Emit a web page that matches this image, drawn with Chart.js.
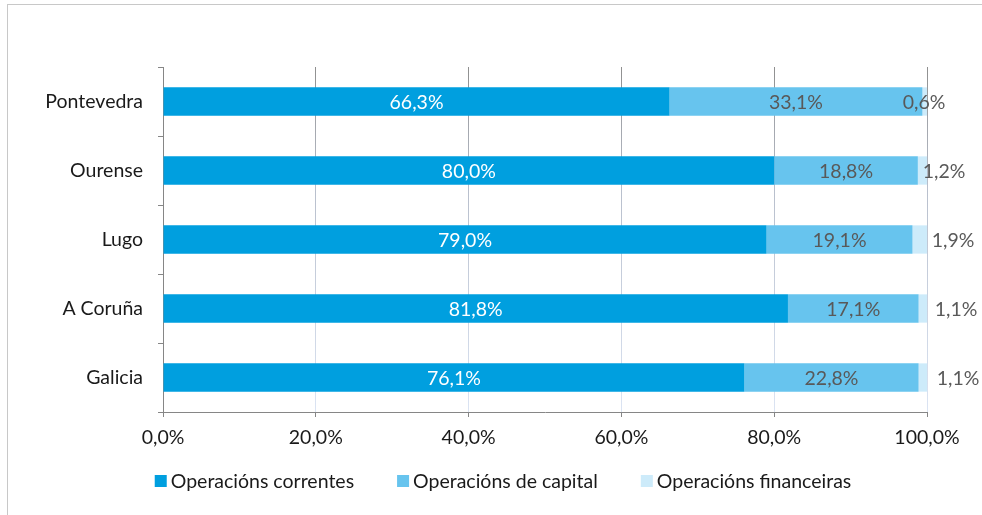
<!DOCTYPE html>
<html><head><meta charset="utf-8">
<script src="https://cdn.jsdelivr.net/npm/chart.js@4"></script>
<style>
html,body{margin:0;padding:0;background:#fff;}
#wrap{position:relative;width:982px;height:515px;overflow:hidden;}
#frame{position:absolute;left:7px;top:4px;width:1000px;height:600px;border:1px solid #c8c8c8;box-sizing:border-box;}
canvas{position:absolute;left:0;top:0;}
</style></head>
<body><div id="wrap"><div id="frame"></div><canvas id="c" width="982" height="515"></canvas></div>
<script>
const categories = ['Pontevedra','Ourense','Lugo','A Coruña','Galicia'];
const seriesNames = ['Operacións correntes','Operacións de capital','Operacións financeiras'];
const correntes = [66.3, 80.0, 79.0, 81.8, 76.1];
const capital = [33.1, 18.8, 19.1, 17.1, 22.8];
const financeiras = [0.6, 1.2, 1.9, 1.1, 1.1];
const xTicks = [0, 20, 40, 60, 80, 100];

const FONT = 'Lato, "Open Sans", sans-serif';
const FS = 19.5;
const fmt = v => v.toFixed(1).replace('.', ',') + '%';

const labelPlugin = {
  id: 'barLabels',
  afterDatasetsDraw(chart, args, opts) {
    const ctx = chart.ctx;
    ctx.save();
    ctx.font = FS + 'px ' + FONT;
    ctx.textAlign = 'center';
    ctx.textBaseline = 'middle';
    chart.data.datasets.forEach((ds, di) => {
      const meta = chart.getDatasetMeta(di);
      meta.data.forEach((el, i) => {
        const v = ds.data[i];
        let x;
        if (di === 2) x = el.x + opts.outsideShift[i];
        else x = (el.x + el.base) / 2;
        ctx.fillStyle = di === 0 ? '#ffffff' : '#595959';
        ctx.fillText(fmt(v), x, el.y + 1);
      });
    });
    ctx.restore();
  }
};

const legendPlugin = {
  id: 'bottomLegend',
  afterDraw(chart, args, opts) {
    const ctx = chart.ctx;
    ctx.save();
    ctx.font = FS + 'px ' + FONT;
    ctx.textBaseline = 'middle';
    ctx.textAlign = 'left';
    const box = 12, gap = 4, spacing = 43;
    const items = chart.data.datasets.map(d => ({text: d.label, color: d.backgroundColor, w: ctx.measureText(d.label).width}));
    const total = items.reduce((s, it) => s + box + gap + it.w, 0) + spacing * (items.length - 1);
    let x = opts.centerX - total / 2;
    const y = opts.y;
    items.forEach(it => {
      ctx.fillStyle = it.color;
      ctx.fillRect(x, y - box / 2, box, box);
      ctx.fillStyle = '#1a1a1a';
      ctx.fillText(it.text, x + box + gap, y + 1);
      x += box + gap + it.w + spacing;
    });
    ctx.restore();
  }
};

const ctx = document.getElementById('c').getContext('2d');
const chart = new Chart(ctx, {
  type: 'bar',
  data: {
    labels: categories,
    datasets: [
      {label: seriesNames[0], data: correntes, backgroundColor: '#009FDF'},
      {label: seriesNames[1], data: capital, backgroundColor: '#67C4EE'},
      {label: seriesNames[2], data: financeiras, backgroundColor: '#CDEBFA'}
    ]
  },
  plugins: [labelPlugin, legendPlugin],
  options: {
    indexAxis: 'y',
    responsive: false,
    animation: false,
    devicePixelRatio: 1,
    layout: {padding: {top: 67, right: 55, left: 0, bottom: 63}},
    datasets: {bar: {categoryPercentage: 1, barPercentage: 0.41}},
    scales: {
      x: {
        stacked: true, min: 0, max: 100,
        afterBuildTicks(s) { s.ticks = xTicks.map(v => ({value: v})); },
        afterFit(s) { s.height = 40; },
        border: {display: true, color: '#868686', width: 1},
        grid: {
          color: (c) => {
            const ch = c.chart, a = ch.chartArea;
            if (!a) return '#ccc';
            const g = ch.ctx.createLinearGradient(0, a.top, 0, a.bottom);
            g.addColorStop(0, '#8f8f8f');
            g.addColorStop(0.35, '#b8bfcc');
            g.addColorStop(1, '#dbe4f3');
            return g;
          },
          tickColor: '#868686', tickLength: 5, lineWidth: 1
        },
        ticks: {
          font: {family: FONT, size: FS}, color: '#1a1a1a', padding: 9,
          callback: v => fmt(v)
        }
      },
      y: {
        stacked: true,
        afterFit(s) { s.width = 163; },
        border: {display: true, color: '#868686', width: 1},
        grid: {offset: true, drawOnChartArea: false, tickLength: 5, tickColor: '#868686'},
        ticks: {font: {family: FONT, size: FS}, color: '#1a1a1a', padding: 15}
      }
    },
    plugins: {
      barLabels: {outsideShift: [-3, 17, 26, 29, 31]},
      bottomLegend: {centerX: 503, y: 481},
      tooltip: {enabled: false},
      legend: {display: false}
    }
  }
});
</script></body></html>
